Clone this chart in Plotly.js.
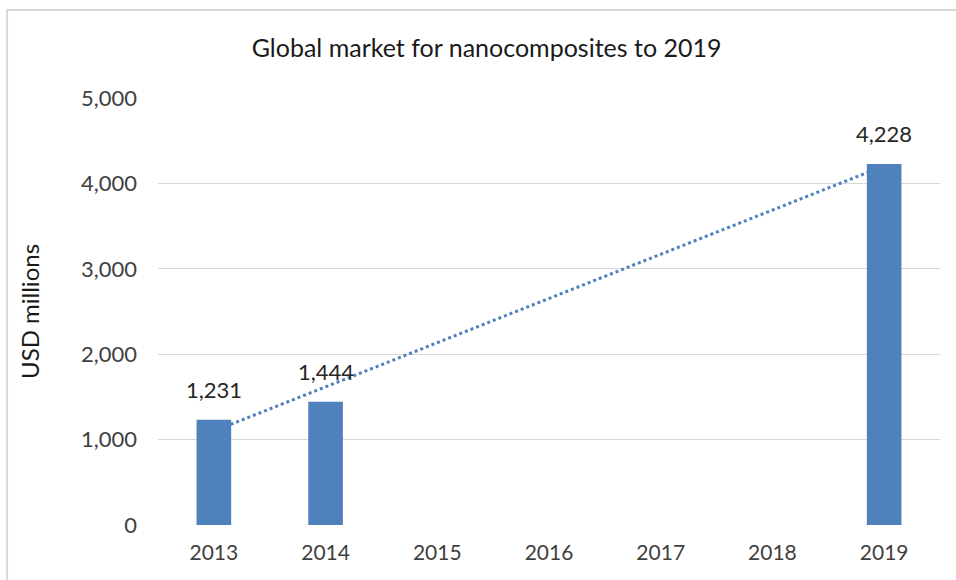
<!DOCTYPE html>
<html>
<head>
<meta charset="utf-8">
<script src="https://cdn.plot.ly/plotly-3.0.1.min.js"></script>
<style>html,body{margin:0;padding:0;background:#fff;}#chart{width:956px;height:580px;}</style>
</head>
<body>
<div id="chart"></div>
<script>
const years = [2013, 2014, 2019];
const values = [1231, 1444, 4228];
const labels = ["1,231", "1,444", "4,228"];
const trendYears = [2013, 2019];
const trendValues = [1100, 4205];
const tickYears = [2013, 2014, 2015, 2016, 2017, 2018, 2019];

const fontFam = "Lato, 'Open Sans', sans-serif";

const trend = {
  x: trendYears, y: trendValues, type: 'scatter', mode: 'lines',
  line: {color: '#4F81BD', width: 3, dash: 'dot'},
  hoverinfo: 'skip', showlegend: false, xaxis: 'x', yaxis: 'y'
};
const bars = {
  x: years, y: values, type: 'bar', width: 0.31,
  marker: {color: '#4F81BD', line: {width: 0}},
  showlegend: false, xaxis: 'x2', yaxis: 'y2'
};

const annotations = years.map((yr, i) => ({
  x: yr, y: values[i], xref: 'x', yref: 'y', text: labels[i], showarrow: false,
  yanchor: 'bottom', yshift: 15,
  font: {family: fontFam, size: 22, color: '#262626'}
}));

const xcommon = {range: [2012.5, 2019.5], tickvals: tickYears, ticktext: tickYears.map(String),
  showgrid: false, zeroline: false, showline: false, ticks: '', ticklabelstandoff: 13,
  tickfont: {family: fontFam, size: 21, color: '#404040'}};
const ycommon = {range: [0, 5000], tickvals: [0, 1000, 2000, 3000, 4000, 5000],
  ticktext: ['0', '1,000', '2,000', '3,000', '4,000', '5,000'],
  showgrid: true, gridcolor: '#d9d9d9', gridwidth: 1, zeroline: false, showline: false, ticks: '',
  ticklabelstandoff: 20,
  tickfont: {family: fontFam, size: 22, color: '#404040'}};

const layout = {
  width: 956, height: 580,
  margin: {l: 158, r: 16, t: 98, b: 55},
  paper_bgcolor: '#fff', plot_bgcolor: '#fff',
  title: {text: 'Global market for nanocomposites to 2019', x: 0.509, xref: 'container',
    y: 0.917, yref: 'container', yanchor: 'middle',
    font: {family: fontFam, size: 25, color: '#1a1a1a'}},
  xaxis: Object.assign({}, xcommon),
  yaxis: Object.assign({}, ycommon, {title: {text: 'USD millions', standoff: 34,
    font: {family: fontFam, size: 24, color: '#1a1a1a'}}}),
  xaxis2: Object.assign({}, xcommon, {overlaying: 'x', showticklabels: false}),
  yaxis2: Object.assign({}, ycommon, {overlaying: 'y', showgrid: false, showticklabels: false}),
  annotations: annotations,
  shapes: [{type: 'rect', xref: 'paper', yref: 'paper', x0: -0.193, x1: 1.2, y0: -0.3, y1: 1.206,
    line: {color: '#d9d9d9', width: 2}, fillcolor: 'rgba(0,0,0,0)', layer: 'below'}]
};

Plotly.newPlot('chart', [trend, bars], layout, {displayModeBar: false, staticPlot: true});
</script>
</body>
</html>
